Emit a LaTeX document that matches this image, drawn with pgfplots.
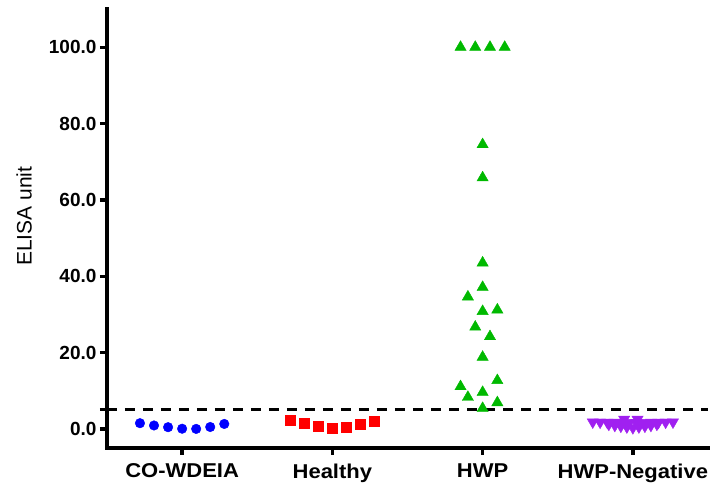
\documentclass[border=0pt]{standalone}
\usepackage{pgfplots}
\pgfplotsset{compat=1.18}
\usepackage{fontspec}
\setmainfont{Liberation Sans}
\definecolor{cblue}{RGB}{0,0,255}
\definecolor{cred}{RGB}{255,0,0}
\definecolor{cgreen}{RGB}{0,185,0}
\definecolor{cpurple}{RGB}{160,32,240}
\begin{document}
\begin{tikzpicture}
\useasboundingbox (-107pt,-36pt) rectangle (617pt,448pt);
\begin{axis}[
  scale only axis,
  width=601pt, height=439pt,
  xmin=-0.5, xmax=3.5,
  ymin=-5, ymax=110,
  axis lines=left,
  axis line style={-, line width=3.3pt, line cap=rect},
  tick style={line width=3.3pt, black},
  tick align=outside,
  major tick length=7pt,
  xtick={0,1,2,3},
  xticklabels={CO-WDEIA,Healthy,HWP,HWP-Negative},
  ytick={0,5,20,40,60,80,100},
  yticklabels={0.0,,20.0,40.0,60.0,80.0,100.0},
  xticklabel style={font=\fontsize{20}{24}\selectfont\bfseries, yshift=-5pt, xscale=1.1},
  yticklabel style={font=\fontsize{19}{22}\selectfont\bfseries},
  every axis y label/.style={at={(axis description cs:0,0.528)}, xshift=-83pt, rotate=90, anchor=center, font=\fontsize{21}{24}\selectfont},
  ylabel={ELISA unit},
  clip=false,
]
% threshold line
\addplot[black, line width=3.3pt, dash pattern=on 10pt off 8pt, forget plot] coordinates {(-0.5,5) (3.5,5)};
% CO-WDEIA
\addplot[only marks, mark=*, mark size=4.8pt, color=cblue, mark options={draw=none, fill=cblue}] coordinates {
(-0.2806,1.5) (-0.187,0.9) (-0.0935,0.45) (0,0.05) (0.0935,0.0) (0.187,0.5) (0.2806,1.3)};
% Healthy
\addplot[only marks, mark=square*, mark size=5pt, color=cred, mark options={draw=none, fill=cred}] coordinates {
(0.7194,2.2) (0.813,1.4) (0.9065,0.6) (1,0.26) (1.0935,0.5) (1.187,1.2) (1.2806,2.0)};
% HWP
\addplot[only marks, mark=triangle*, mark size=6.5pt, color=cgreen, mark options={draw=none, fill=cgreen}] coordinates {
(1.853,100) (1.951,100) (2.049,100) (2.147,100)
(2,74.5) (2,65.8) (2,43.5) (2,37.1) (1.902,34.6) (2,30.8) (2.098,31.2)
(1.951,26.7) (2.049,24.2) (2,18.8) (1.853,11.1) (2.098,12.7)
(1.902,8.3) (2,9.6) (2.098,6.9) (2,5.4)};
% HWP-Negative
\addplot[only marks, mark=triangle*, mark size=6.5pt, color=cpurple, mark options={draw=none, fill=cpurple, rotate=180}] coordinates {
(2.733,1.8) (2.782,1.75) (2.830,1.7) (2.878,1.7) (2.927,1.65) (2.976,1.65)
(3.024,1.65) (3.073,1.65) (3.122,1.7) (3.170,1.7) (3.218,1.75) (3.267,1.8)
(2.840,1.2) (2.880,0.9) (2.920,0.7) (2.960,0.5) (3.0,0.3) (3.040,0.5) (3.080,0.7) (3.120,0.9) (3.160,1.2)
(2.942,2.5) (3.031,2.5)};
\end{axis}
\end{tikzpicture}
\end{document}
